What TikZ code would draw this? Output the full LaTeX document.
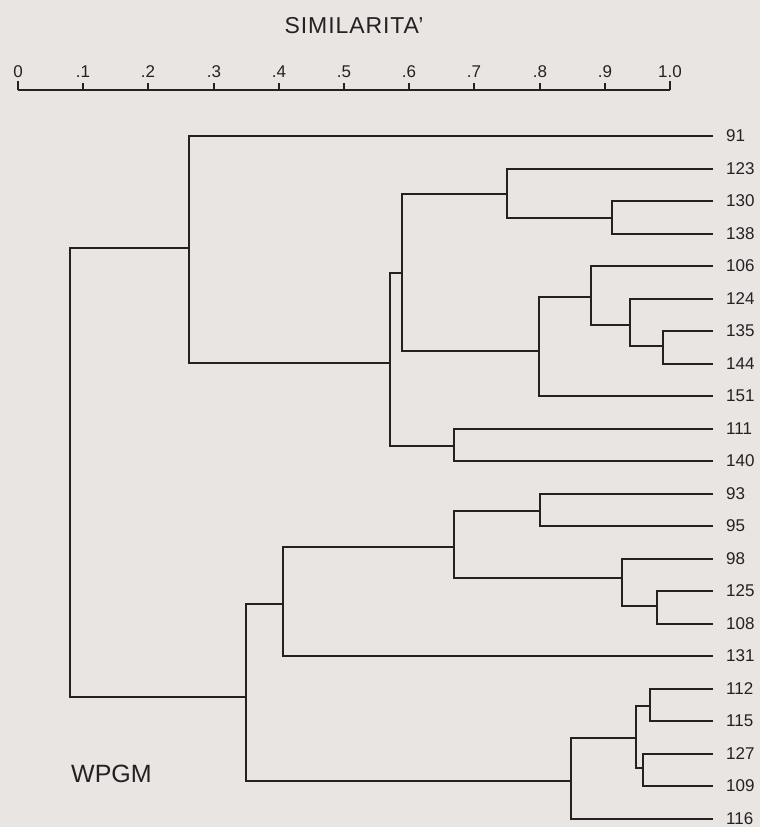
\documentclass[tikz,border=0pt]{standalone}
\usepackage{fontspec}
\setmainfont{Liberation Sans}
\newfontfamily\titlefont[LetterSpace=4]{Liberation Sans}
\definecolor{paper}{RGB}{233,229,227}
\definecolor{ink}{RGB}{38,32,32}
\usetikzlibrary{calc}

\begin{document}
\begin{tikzpicture}[x=1pt, y=-1pt,
    branch/.style={draw=ink, line width=1.8pt},
    leaf/.style={anchor=west, inner xsep=13pt, inner ysep=0pt, text=ink,
                 font=\fontsize{17}{20}\selectfont},
    ticklab/.style={anchor=base, inner sep=0pt, text=ink,
                    font=\fontsize{17}{20}\selectfont}]
    \fill[paper] (0,0) rectangle (760,827);
    \useasboundingbox (0,0) rectangle (760,827);

    \node[anchor=base, inner sep=0pt, text=ink,
          font=\titlefont\fontsize{23}{26}\selectfont] (title) at (354,33) {SIMILARITA’};
    \foreach \lab [count=\k from 0] in {0,.1,.2,.3,.4,.5,.6,.7,.8,.9,1.0} {
        \coordinate (s\k) at ({18+round(65.2*\k)}, 90);
        \node[ticklab] (t\k) at ({18+round(65.2*\k)}, 77) {\lab};
        \draw[branch] (s\k) -- ++(0,-7);
    }
    \draw[branch] (s0) -- ++(0,-9);
    \draw[branch] (s10) -- ++(0,-9);
    \draw[branch] (s0) -- (s10);

    \foreach \lab [count=\i from 0] in {91,123,130,138,106,124,135,144,151,111,140,
                                        93,95,98,125,108,131,112,115,127,109,116}
        \node[leaf] (l\lab) at (713, {136+round(32.5*\i)}) {\lab};

    \foreach \p/\x/\y/\a/\b in {
        m1/612/218/l130.west/l138.west,
        m2/507/194/l123.west/m1,
        m3/663/346/l135.west/l144.west,
        m4/630/325/l124.west/m3,
        m5/591/297/l106.west/m4,
        m6/539/351/m5/l151.west,
        m7/402/273/m2/m6,
        m8/454/446/l111.west/l140.west,
        m9/390/363/m7/m8,
        m10/189/248/l91.west/m9,
        m11/540/511/l93.west/l95.west,
        m12/657/606/l125.west/l108.west,
        m13/622/578/l98.west/m12,
        m14/454/547/m11/m13,
        m15/283/604/m14/l131.west,
        m16/650/706/l112.west/l115.west,
        m17/643/768/l127.west/l109.west,
        m18/636/738/m16/m17,
        m19/571/781/m18/l116.west,
        m20/246/697/m15/m19,
        root/70/472/m10/m20} {
        \coordinate (\p) at (\x,\y);
        \draw[branch] (\a) -| (\p) |- (\b);
    }

    \node[anchor=base west, inner sep=0pt, text=ink,
          font=\fontsize{25}{28}\selectfont] (method) at (71,782) {WPGM};
\end{tikzpicture}
\end{document}
